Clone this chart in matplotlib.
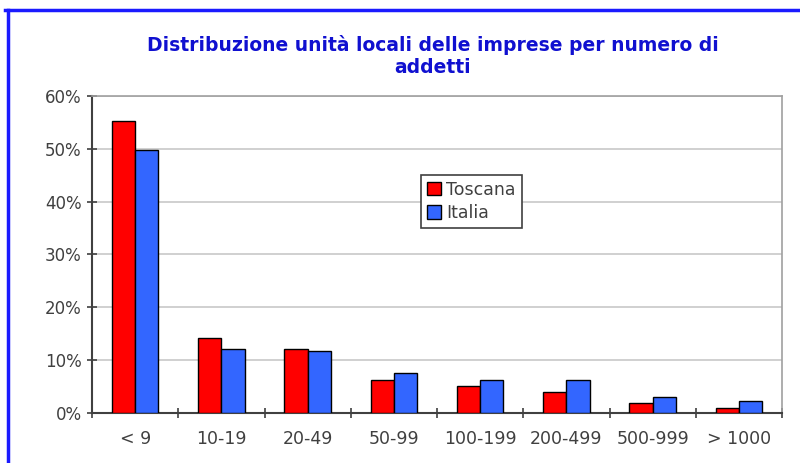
import numpy as np
import matplotlib
matplotlib.use("Agg")
import matplotlib.pyplot as plt
from matplotlib.lines import Line2D
from matplotlib.ticker import PercentFormatter

# data (percent)
categories = ["< 9", "10-19", "20-49", "50-99", "100-199", "200-499", "500-999", "> 1000"]
toscana = [55.3, 14.1, 12.1, 6.3, 5.1, 3.9, 1.8, 0.9]
italia = [49.8, 12.1, 11.7, 7.6, 6.3, 6.3, 3.0, 2.3]

plt.rcParams['font.family'] = ['DejaVu Sans']

fig = plt.figure(figsize=(8, 4.63), dpi=100)
ax = fig.add_axes([0.115, 0.108, 0.8625, 0.685])

x = np.arange(len(categories))
w = 0.27
ax.bar(x - w / 2, toscana, w, color='#ff0000', edgecolor='black', linewidth=1, label='Toscana', zorder=3)
ax.bar(x + w / 2, italia, w, color='#3366ff', edgecolor='black', linewidth=1, label='Italia', zorder=3)

ax.set_xlim(-0.5, len(categories) - 0.5)
ax.set_ylim(0, 60)
ax.set_yticks(np.arange(0, 61, 10))
ax.yaxis.set_major_formatter(PercentFormatter(decimals=0))
ax.grid(axis='y', color='#c8c8c8', linewidth=1.2, zorder=0)

ax.set_xticks(x)
ax.set_xticklabels(categories)
ax.set_xticks(np.arange(-0.5, len(categories)), minor=True)
ax.tick_params(axis='x', which='major', length=0, pad=12, labelsize=12.5, labelcolor='#404040')
ax.tick_params(axis='x', which='minor', direction='inout', length=7, width=1.2, color='#404040')
ax.tick_params(axis='y', direction='inout', length=7, width=1.2, color='#404040', labelsize=12, labelcolor='#404040', pad=4)

for s in ['top', 'right']:
    ax.spines[s].set_color('#a0a0a0')
    ax.spines[s].set_linewidth(1.2)
for s in ['left', 'bottom']:
    ax.spines[s].set_color('#404040')
    ax.spines[s].set_linewidth(1.5)

leg = ax.legend(loc='upper left', bbox_to_anchor=(0.477, 0.751), borderaxespad=0,
                fancybox=False, framealpha=1, edgecolor='#404040', fontsize=12.5,
                handlelength=0.8, handleheight=0.8, handletextpad=0.3,
                labelspacing=0.3, borderpad=0.35)
leg.get_frame().set_linewidth(1.2)
for t in leg.get_texts():
    t.set_color('#404040')

fig.text(0.541, 0.878, "Distribuzione unità locali delle imprese per numero di\naddetti",
         ha='center', va='center', fontsize=13.5, fontweight='bold', color='#1010d0',
         linespacing=1.2)

# blue frame at top and left
fig.add_artist(Line2D([0.006, 1.0], [0.979, 0.979], color='#1a1aff', linewidth=2.5))
fig.add_artist(Line2D([0.01, 0.01], [0.0, 0.979], color='#1a1aff', linewidth=2.5))

fig.savefig('out.png', dpi=100)
